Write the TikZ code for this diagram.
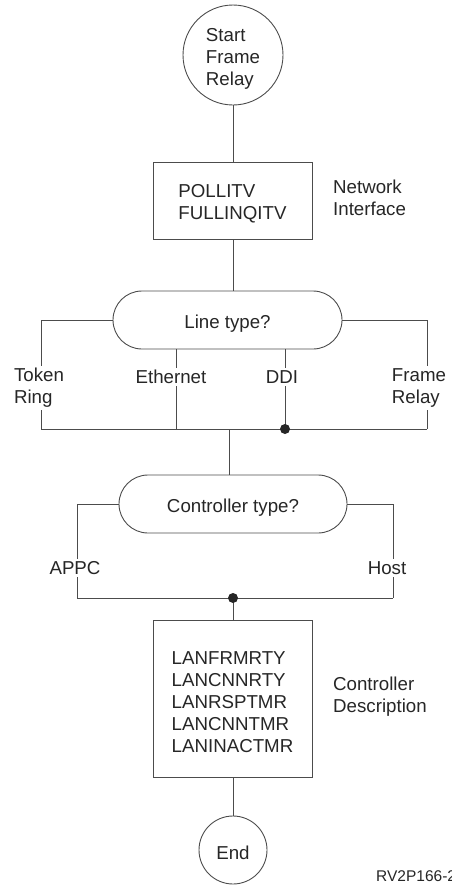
\documentclass[tikz,border=0pt]{standalone}
\usepackage{fontspec}
\setmainfont{Liberation Sans}
\newcommand{\dnshift}{\rule{0pt}{20pt}}
\begin{document}
\begin{tikzpicture}[x=1pt,y=-1pt,
  every node/.style={font=\fontsize{18.7}{22}\selectfont, text=black!85},
  ln/.style={draw=black!70, line width=0.9pt},
  term/.style={ln, circle, inner sep=0pt, align=left},
  box/.style={ln, rectangle, inner sep=0pt, align=left},
  pill/.style={ln, rectangle, rounded corners=29pt, inner sep=0pt},
  lbl/.style={fill=white, inner sep=2.5pt, align=left},
  side/.style={inner sep=0pt, align=left, anchor=west},
  dot/.style={circle, fill=black!85, inner sep=0pt, minimum size=10pt}]
\useasboundingbox (0,0) rectangle (451,886);
% main nodes
\node[term, minimum size=100pt] (start) at (233,55) {\dnshift Start\\Frame\\Relay};
\node[box, minimum width=159pt, minimum height=77pt] (ni) at (232.5,200.5) {\dnshift POLLITV\\FULLINQITV};
\node[pill, minimum width=229pt, minimum height=58pt] (lt) at (227.5,320) {\dnshift Line type?};
\node[pill, minimum width=228pt, minimum height=58pt] (ct) at (233,504) {\dnshift Controller type?};
\node[box, minimum width=159pt, minimum height=157pt] (cd) at (232.5,698.5) {\dnshift LANFRMRTY\\LANCNNRTY\\LANRSPTMR\\LANCNNTMR\\LANINACTMR};
\node[term, minimum size=68pt] (end) at (233,850) {\dnshift End};
% junction coordinates
\coordinate (tr) at (41,429);
\coordinate (et) at (176,429);
\coordinate (dd) at (285,429);
\coordinate (fr) at (427,429);
\coordinate (j1) at (229,429);
\coordinate (ap) at (77,598);
\coordinate (ho) at (393,598);
\coordinate (j2) at (233,598);
% connectors
\draw[ln] (start.south) -- (ni.north -| start.south);
\draw[ln] (ni.south -| start.south) -- (lt.north -| start.south);
\draw[ln] (lt.west) -| (tr);
\draw[ln] (lt.east) -| (fr);
\draw[ln] (lt.south -| et) -- (et);
\draw[ln] (lt.south -| dd) -- (dd);
\draw[ln] (tr) -- (fr);
\draw[ln] (j1) -- (ct.north -| j1);
\draw[ln] (ct.west) -| (ap);
\draw[ln] (ct.east) -| (ho);
\draw[ln] (ap) -- (ho);
\draw[ln] (j2) -- (cd.north -| j2);
\draw[ln] (cd.south -| end.north) -- (end.north);
\node[dot] (d1) at (dd) {};
\node[dot] (d2) at (j2) {};
% labels
\node[lbl] (ltr) at (39,388) {Token\\Ring};
\node[lbl] (let) at (171,377) {Ethernet};
\node[lbl] (ldd) at (282,377) {DDI};
\node[lbl] (lfr) at (419,388) {Frame\\Relay};
\node[lbl] (lap) at (75,568) {APPC};
\node[lbl] (lho) at (387,568) {Host};
\node[side] (lni) at (333,198) {Network\\Interface};
\node[side] (lcd) at (333,697) {Controller\\Description};
\node[side, font=\fontsize{15.5}{18}\selectfont] (fig) at (376,876) {RV2P166-2};
\end{tikzpicture}
\end{document}
